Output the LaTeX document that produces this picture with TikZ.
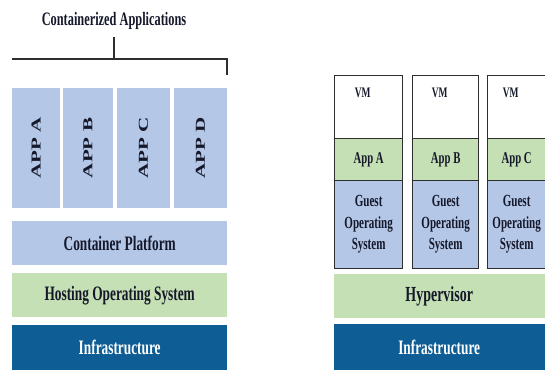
\documentclass[tikz,border=0pt]{standalone}
\usepackage{fontspec}
\setmainfont{Liberation Serif}[FakeStretch=0.65]
\newfontfamily\rotfont{Liberation Serif}
\definecolor{lblue}{HTML}{B4C7E7}
\definecolor{lgreen}{HTML}{C5E0B4}
\definecolor{dblue}{HTML}{0E5E95}
\definecolor{txt}{HTML}{15182A}
\definecolor{bord}{HTML}{2E2E2E}
\tikzset{
  layer/.style={rectangle, inner sep=0pt, anchor=north west, text=txt,
    font=\bfseries\fontsize{20.5}{24}\selectfont},
  appcol/.style={rectangle, inner sep=0pt, rotate=90, fill=lblue, text=txt,
    minimum width=120pt, font=\rotfont\bfseries\fontsize{21}{24}\selectfont},
  vmpart/.style={rectangle, draw=bord, line width=1.3pt, inner sep=0pt,
    anchor=north west, text=txt, align=center},
  vmtop/.style={vmpart, fill=white, minimum height=63pt},
  vmapp/.style={vmpart, fill=lgreen, minimum height=42pt,
    font=\bfseries\fontsize{16.5}{20}\selectfont},
  vmos/.style={vmpart, fill=lblue, minimum height=88pt,
    font=\bfseries\fontsize{17}{21.5}\selectfont},
  vmlabel/.style={anchor=north, inner sep=0pt, yshift=-13pt, xshift=-6pt, text=txt,
    font=\bfseries\fontsize{14.5}{16}\selectfont},
}
\begin{document}
\begin{tikzpicture}[x=1pt,y=-1pt]
\useasboundingbox (0,0) rectangle (545,369);
\clip (0,0) rectangle (545,369);

% ---------- left: containers ----------
\node[anchor=south, inner xsep=0pt, inner ysep=7pt, text=txt,
  font=\bfseries\fontsize{19}{22}\selectfont] (title) at (114,37) {Containerized Applications};
\coordinate (bl) at (12,59);
\coordinate (br) at (227,59);
\coordinate (bre) at (227,75);
\draw[line width=1.2pt, bord] (title.south) -- (title.south |- bl);
\draw[line width=1.2pt, bord] (bl) -- (br) -- (bre);

\node[appcol, minimum height=48pt] (appA) at (36,148) {\scalebox{1}[0.65]{APP A}};
\node[appcol, minimum height=50pt] (appB) at (88,148) {\scalebox{1}[0.65]{APP B}};
\node[appcol, minimum height=53pt] (appC) at (143.5,148) {\scalebox{1}[0.65]{APP C}};
\node[appcol, minimum height=53pt] (appD) at (200.5,148) {\scalebox{1}[0.65]{APP D}};

\node[layer, fill=lblue, minimum width=215pt, minimum height=44pt] (cp) at (12,221) {Container Platform};
\node[layer, fill=lgreen, minimum width=215pt, minimum height=44pt] (hos) at (12,273) {Hosting Operating System};
\node[layer, fill=dblue, text=white, minimum width=215pt, minimum height=47pt] (infl) at (12,325) {\raisebox{2pt}{Infrastructure}};

% ---------- right: VMs ----------
\node[vmtop, minimum width=68pt, label={[vmlabel]north:VM}] (vm1) at (334,75) {};
\node[vmapp, minimum width=68pt] (app1) at (334,138) {App A};
\node[vmos, minimum width=68pt] (os1) at (334,180) {Guest\\Operating\\System};

\node[vmtop, minimum width=66pt, label={[vmlabel]north:VM}] (vm2) at (412,75) {};
\node[vmapp, minimum width=66pt] (app2) at (412,138) {App B};
\node[vmos, minimum width=66pt] (os2) at (412,180) {Guest\\Operating\\System};

\node[vmtop, minimum width=66pt, label={[vmlabel, xshift=-4pt]north:VM}] (vm3) at (487,75) {};
\node[vmapp, minimum width=66pt] (app3) at (487,138) {\hspace*{-8pt}App C};
\node[vmos, minimum width=66pt] (os3) at (487,180) {\hspace*{-8pt}Guest\\\hspace*{-8pt}Operating\\\hspace*{-8pt}System};

\node[layer, fill=lgreen, minimum width=216pt, minimum height=44pt,
  font=\bfseries\fontsize{21.5}{24}\selectfont] (hyp) at (334,274) {\hspace*{-6pt}Hypervisor};
\node[layer, fill=dblue, text=white, minimum width=216pt, minimum height=48pt] (infr) at (334,324) {\raisebox{2pt}{\hspace*{-6pt}Infrastructure}};
\end{tikzpicture}
\end{document}
